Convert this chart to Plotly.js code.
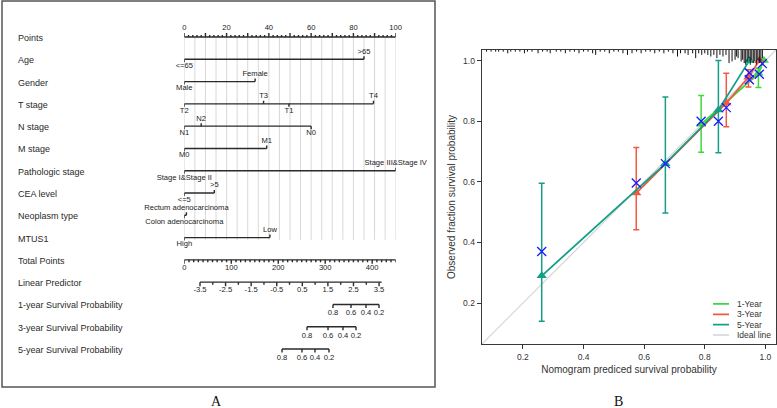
<!DOCTYPE html>
<html><head><meta charset="utf-8">
<script src="https://cdn.plot.ly/plotly-3.0.1.min.js"></script>
<style>html,body{margin:0;padding:0;background:#fff}#chart{width:777px;height:408px}</style>
</head><body><div id="chart"></div>
<script>
// ================= DATA: Panel A (nomogram) =================
const rowNames = ['Points','Age','Gender','T stage','N stage','M stage','Pathologic stage','CEA level','Neoplasm type','MTUS1','Total Points','Linear Predictor','1-year Survival Probability','3-year Survival Probability','5-year Survival Probability'];
const ageLevels = ['<=65','>65'];
const agePoints = [0, 85];
const genderLevels = ['Male','Female'];
const genderPoints = [0, 33.5];
const tLevels = ['T2','T3','T1','T4'];
const tPoints = [0, 37.5, 49.5, 89.5];
const nLevels = ['N1','N2','N0'];
const nPoints = [0, 8, 60];
const mLevels = ['M0','M1'];
const mPoints = [0, 39];
const pathLevels = ['Stage I&Stage II','Stage III&Stage IV'];
const pathPoints = [0, 100];
const ceaLevels = ['<=5','>5'];
const ceaPoints = [0, 14.2];
const neoLevels = ['Colon adenocarcinoma','Rectum adenocarcinoma'];
const neoPoints = [0, 1];
const mtusLevels = ['High','Low'];
const mtusPoints = [0, 40.5];

const pointsTicks = [0, 20, 40, 60, 80, 100];
const totalTicks = [0, 100, 200, 300, 400];
const totalMax = 450;
const lpTicks = [-3.5, -2.5, -1.5, -0.5, 0.5, 1.5, 2.5, 3.5];
const lpAnchorValue = [-3.5, 3.5];
const lpAnchorTotal = [33.4, 414.6];
const lpEnd = 3.6;
const survLabels = ['0.8', '0.6', '0.4', '0.2'];
const surv1Total = [316.5, 354.9, 386.8, 414.5];
const surv3Total = [261.2, 305.9, 337.8, 365.5];
const surv5Total = [208.0, 250.5, 278.2, 308.0];

// ================= DATA: Panel B (calibration) =================
const cal1X = [0.788, 0.977, 0.995];
const cal1Y = [0.79, 0.958, 1.0];
const cal1Lo = [0.698, 0.911, 1.0];
const cal1Hi = [0.885, 0.975, 1.0];
const cal3X = [0.574, 0.871, 0.944, 0.98];
const cal3Y = [0.563, 0.86, 0.945, 1.0];
const cal3Lo = [0.442, 0.782, 0.913, 1.0];
const cal3Hi = [0.713, 0.958, 0.97, 1.0];
const cal5X = [0.262, 0.67, 0.845, 0.947];
const cal5Y = [0.29, 0.66, 0.837, 1.0];
const cal5Lo = [0.14, 0.497, 0.696, 1.0];
const cal5Hi = [0.595, 0.88, 1.0, 1.0];
const corrX = [0.262, 0.574, 0.67, 0.788, 0.845, 0.871, 0.947, 0.947, 0.98, 0.99];
const corrY = [0.37, 0.596, 0.66, 0.80, 0.80, 0.845, 0.96, 0.937, 0.955, 0.99];
const rugX = [0.08,0.095,0.11,0.12,0.135,0.15,0.16,0.175,0.19,0.205,0.215,0.23,0.25,0.265,0.28,0.29,0.31,0.325,0.34,0.355,0.37,0.385,0.40,0.415,0.43,0.44,0.455,0.47,0.485,0.50,0.515,0.53,0.545,0.56,0.575,0.59,0.605,0.62,0.635,0.65,0.665,0.68,0.695,0.71,0.72,0.735,0.745,0.76,0.77,0.78,0.79,0.80,0.81,0.82,0.83,0.84,0.85,0.86,0.87,0.88,0.89,0.90,0.905,0.91,0.92,0.925,0.93,0.935,0.94,0.945,0.95,0.955,0.96,0.965,0.97,0.975,0.98,0.985,0.99];
const rugN = [1,1,1,1,1,2,1,1,1,2,1,1,2,1,1,2,1,1,2,1,1,2,1,1,2,3,1,1,2,1,1,2,3,2,1,2,1,1,2,1,2,1,2,4,2,2,3,2,5,2,3,2,3,4,3,5,3,4,3,8,7,6,4,5,7,6,8,9,7,5,9,6,8,7,9,6,8,7,5];
const seriesNames = ['1-Year', '3-Year', '5-Year', 'Ideal line'];

// ================= GEOMETRY & STYLE =================
const W = 777, H = 408;
const fy = py => 1 - py / H;
const FONT = '"Liberation Sans", Arial, Helvetica, sans-serif';
const nomoLeft = 184.3, nomoRight = 395.7;
const rowTop = 37, rowStep = 22.286;
const nRows = rowNames.length;
const r = px => px / rowStep; // pixels -> row units
const calRange = [0.065, 1.035];
const rugScale = 180;
const colors = ['#3fd63f', '#ef5a45', '#149f86', '#d3d3d3'];
const inkColor = '#2a2a2a';

// ---------- nomogram geometry ----------
const segX = [], segY = [];   // on x2 (points scale)
const seg3X = [], seg3Y = []; // on x3 (total points scale)
const gridX = [], gridY = [];
const tX = [], tY = [], tT = [];    // text on x2
const t3X = [], t3Y = [], t3T = []; // text on x3
function seg(X, Y, x0, y0, x1, y1) { X.push(x0, x1, null); Y.push(y0, y1, null); }

// Points axis (row 0)
seg(segX, segY, 0, 0, 100, 0);
for (let p = 0; p <= 100; p += 2) seg(segX, segY, p, 0, p, -r(p % 10 === 0 ? 4 : 2));
pointsTicks.forEach(p => { tX.push(p); tY.push(-r(8.5)); tT.push(String(p)); });
for (let p = 0; p <= 100; p += 5) seg(gridX, gridY, p, 0, p, 9.1);

// categorical variables
const vars = [[ageLevels, agePoints], [genderLevels, genderPoints], [tLevels, tPoints], [nLevels, nPoints],
  [mLevels, mPoints], [pathLevels, pathPoints], [ceaLevels, ceaPoints], [neoLevels, neoPoints], [mtusLevels, mtusPoints]];
vars.forEach(([lev, pts], i) => {
  const row = i + 1;
  seg(segX, segY, Math.min(...pts), row, Math.max(...pts), row);
  const order = pts.map((p, k) => k).sort((a, b) => pts[a] - pts[b]);
  order.forEach((k, j) => {
    const side = j % 2 === 0 ? 1 : -1; // 1 = below, -1 = above
    seg(segX, segY, pts[k], row, pts[k], row + side * r(3));
    tX.push(pts[k]); tY.push(row + side * r(side > 0 ? 7 : 7.5)); tT.push(lev[k]);
  });
});

// Total points (row 10)
seg(seg3X, seg3Y, 0, 10, totalMax, 10);
for (let p = 0; p <= totalMax; p += 10) seg(seg3X, seg3Y, p, 10, p, 10 + r(p % 100 === 0 ? 4 : 2.5));
totalTicks.forEach(p => { t3X.push(p); t3Y.push(10 + r(8)); t3T.push(String(p)); });

// Linear predictor (row 11)
const lpToTotal = v => lpAnchorTotal[0] + (v - lpAnchorValue[0]) * (lpAnchorTotal[1] - lpAnchorTotal[0]) / (lpAnchorValue[1] - lpAnchorValue[0]);
seg(seg3X, seg3Y, lpToTotal(lpTicks[0]), 11, lpToTotal(lpEnd), 11);
for (let v = lpTicks[0]; v <= lpTicks[lpTicks.length - 1] + 1e-9; v += 0.5) {
  const major = lpTicks.some(t => Math.abs(t - v) < 1e-9);
  seg(seg3X, seg3Y, lpToTotal(v), 11, lpToTotal(v), 11 + r(major ? 4 : 2.5));
}
lpTicks.forEach(v => { t3X.push(lpToTotal(v)); t3Y.push(11 + r(8)); t3T.push(String(v)); });

// survival rows
[surv1Total, surv3Total, surv5Total].forEach((tp, i) => {
  const row = 12 + i;
  seg(seg3X, seg3Y, Math.min(...tp), row, Math.max(...tp), row);
  tp.forEach((v, k) => { seg(seg3X, seg3Y, v, row, v, row + r(3.5)); t3X.push(v); t3Y.push(row + r(9)); t3T.push(survLabels[k]); });
});

const lineStyle = { color: inkColor, width: 1.4 };
const smallFont = { family: FONT, size: 7.6, color: '#222' };
const traces = [
  { type: 'scatter', mode: 'lines', x: gridX, y: gridY, xaxis: 'x2', yaxis: 'y2', line: { color: '#d8d8d8', width: 1 }, cliponaxis: false, hoverinfo: 'skip' },
  { type: 'scatter', mode: 'lines', x: segX, y: segY, xaxis: 'x2', yaxis: 'y2', line: lineStyle, cliponaxis: false, hoverinfo: 'skip' },
  { type: 'scatter', mode: 'lines', x: seg3X, y: seg3Y, xaxis: 'x3', yaxis: 'y2', line: lineStyle, cliponaxis: false, hoverinfo: 'skip' },
  { type: 'scatter', mode: 'text', x: tX, y: tY, text: tT, xaxis: 'x2', yaxis: 'y2', textposition: 'middle center', textfont: smallFont, cliponaxis: false, hoverinfo: 'skip' },
  { type: 'scatter', mode: 'text', x: t3X, y: t3Y, text: t3T, xaxis: 'x3', yaxis: 'y2', textposition: 'middle center', textfont: smallFont, cliponaxis: false, hoverinfo: 'skip' },
];

// ---------- calibration ----------
traces.push({ type: 'scatter', mode: 'lines', x: calRange, y: calRange, line: { color: colors[3], width: 1.2 }, hoverinfo: 'skip' });
const rX = [], rY = [];
rugX.forEach((x, i) => { rX.push(x, x, null); rY.push(0, rugN[i], null); });
traces.push({ type: 'scatter', mode: 'lines', x: rX, y: rY, xaxis: 'x', yaxis: 'y3', line: { color: '#111', width: 1 }, hoverinfo: 'skip' });
[[cal1X, cal1Y, cal1Lo, cal1Hi], [cal3X, cal3Y, cal3Lo, cal3Hi], [cal5X, cal5Y, cal5Lo, cal5Hi]].forEach(([x, y, lo, hi], i) => {
  traces.push({
    type: 'scatter', mode: 'lines+markers', x, y, name: seriesNames[i],
    line: { color: colors[i], width: 1.8 },
    marker: { symbol: 'triangle-up', size: 9, color: colors[i] },
    error_y: { type: 'data', symmetric: false, array: hi.map((h, k) => h - y[k]), arrayminus: lo.map((l, k) => y[k] - l), color: colors[i], thickness: 1.5, width: 3 },
    cliponaxis: false, hoverinfo: 'skip'
  });
});
traces.push({ type: 'scatter', mode: 'markers', x: corrX, y: corrY, marker: { symbol: 'x-thin-open', size: 9, line: { color: '#1a1aff', width: 1.3 }, color: '#1a1aff' }, cliponaxis: false, hoverinfo: 'skip' });

// legend (own mini axes)
seriesNames.forEach((nm, i) => {
  traces.push({ type: 'scatter', mode: 'lines', x: [0, 1], y: [i, i], xaxis: 'x5', yaxis: 'y5', line: { color: colors[i], width: i === 3 ? 1.4 : 1.8 }, cliponaxis: false, hoverinfo: 'skip' });
});

const annotations = [];
rowNames.forEach((nm, i) => annotations.push({ text: nm, xref: 'paper', yref: 'y2', x: 16 / W, y: i, yshift: -1, xanchor: 'left', yanchor: 'middle', showarrow: false, font: { family: FONT, size: 9, color: inkColor } }));
seriesNames.forEach((nm, i) => annotations.push({ text: nm, xref: 'x5', yref: 'y5', x: 1, y: i, xshift: 6, xanchor: 'left', yanchor: 'middle', showarrow: false, font: { family: FONT, size: 8.5, color: '#333' } }));
annotations.push({ text: 'A', xref: 'paper', yref: 'paper', x: 216 / W, y: fy(401), xanchor: 'center', yanchor: 'middle', showarrow: false, font: { family: '"Liberation Serif", "Times New Roman", serif', size: 14, color: '#111' } });
annotations.push({ text: 'B', xref: 'paper', yref: 'paper', x: 618 / W, y: fy(401), xanchor: 'center', yanchor: 'middle', showarrow: false, font: { family: '"Liberation Serif", "Times New Roman", serif', size: 14, color: '#111' } });

const calAxis = {
  range: calRange, tickvals: [0.2, 0.4, 0.6, 0.8, 1.0], tickformat: '.1f', ticks: 'outside', ticklen: 4, tickwidth: 1, tickcolor: '#333',
  showline: true, mirror: true, linecolor: '#3a3a3a', linewidth: 1.4, showgrid: false, zeroline: false,
  tickfont: { family: FONT, size: 8.5, color: '#333' }
};
const yDomA = [fy(rowTop + rowStep * (nRows - 1) + rowStep / 2), fy(rowTop - rowStep / 2)];
const layout = {
  width: W, height: H, margin: { l: 0, r: 0, t: 0, b: 0 }, paper_bgcolor: '#fff', plot_bgcolor: 'rgba(0,0,0,0)', showlegend: false,
  font: { family: FONT, color: inkColor },
  xaxis: Object.assign({}, calAxis, { domain: [482 / W, 776 / W], anchor: 'y', title: { text: 'Nomogram prediced survival probability', font: { family: FONT, size: 10, color: '#333' }, standoff: 5 } }),
  yaxis: Object.assign({}, calAxis, { domain: [fy(344), fy(50)], anchor: 'x', title: { text: 'Observed fraction survival probability', font: { family: FONT, size: 10, color: '#333' }, standoff: 5 } }),
  yaxis3: { domain: [fy(344), fy(50)], overlaying: 'y', anchor: 'x', range: [rugScale, 0], visible: false },
  xaxis2: { domain: [nomoLeft / W, nomoRight / W], range: [0, 100], anchor: 'y2', visible: false },
  yaxis2: { domain: yDomA, range: [nRows - 0.5, -0.5], anchor: 'x2', visible: false },
  xaxis3: { domain: [nomoLeft / W, nomoRight / W], range: [0, totalMax], anchor: 'y2', overlaying: 'x2', visible: false },
  xaxis5: { domain: [713 / W, 729 / W], range: [0, 1], anchor: 'y5', visible: false },
  yaxis5: { domain: [fy(340.2), fy(298.8)], range: [3.5, -0.5], anchor: 'x5', visible: false },
  shapes: [{ type: 'rect', xref: 'paper', yref: 'paper', x0: 2 / W, x1: 435 / W, y0: fy(387), y1: fy(1), line: { color: '#555', width: 1.5 } }],
  annotations
};
Plotly.newPlot('chart', traces, layout, { staticPlot: true, displayModeBar: false });
</script></body></html>
